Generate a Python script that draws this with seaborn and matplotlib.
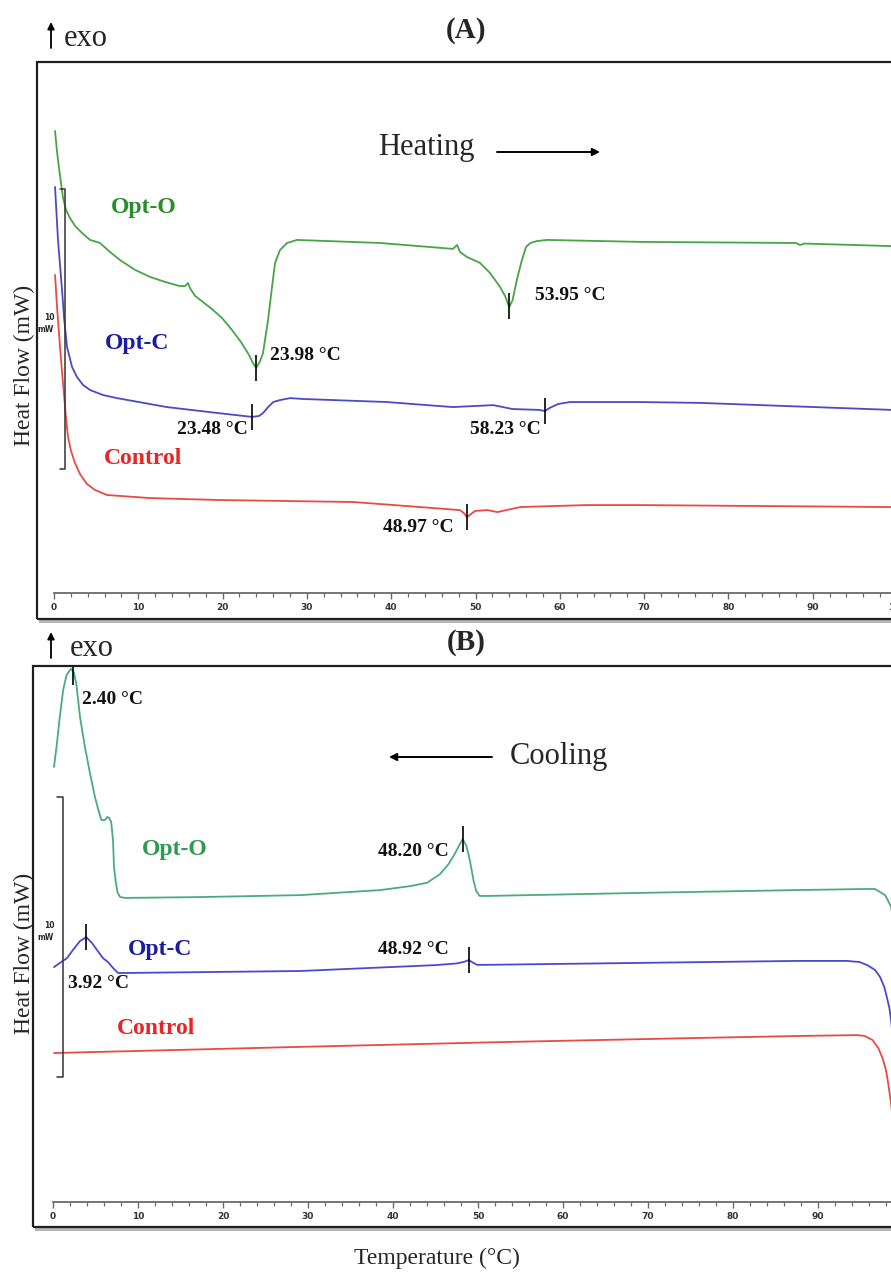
import numpy as np
import pandas as pd
import matplotlib
matplotlib.use("Agg")
import matplotlib.pyplot as plt
import seaborn as sns
from matplotlib.patches import Rectangle, FancyArrowPatch

# ------------------------------------------------------------------ data
samples = ["Opt-O", "Opt-C", "Control"]

# (A) heating scans: temperature (°C) and relative heat flow (mW)
heat_optO_T = [0.12, 0.36, 0.59, 0.83, 1.07, 1.42, 1.90, 2.49, 3.32, 4.27, 5.46, 6.64, 7.83,
               9.61, 11.39, 13.17, 14.95, 15.54, 15.90, 16.13, 16.73, 17.67, 18.74, 19.93,
               21.12, 22.18, 23.13, 23.60, 23.98, 24.40, 24.79, 25.39, 25.86, 26.22, 26.81,
               27.64, 28.83, 38.7, 47.33, 47.81, 48.16, 48.99, 50.53, 51.72, 52.91, 53.50,
               54.0, 54.4, 54.9, 55.5, 56.0, 56.5, 57.3, 58.48, 69.5, 88.0, 88.5, 89.0,
               99.3, 101.0]
heat_optO_hf = [16.50, 15.75, 15.18, 14.64, 14.11, 13.68, 13.39, 13.11, 12.86, 12.61, 12.50,
                12.18, 11.89, 11.54, 11.29, 11.11, 10.96, 10.96, 11.07, 10.89, 10.61, 10.39,
                10.14, 9.82, 9.39, 8.96, 8.50, 8.21, 8.04, 8.25, 8.57, 9.75, 10.93, 11.79,
                12.25, 12.50, 12.61, 12.50, 12.29, 12.43, 12.18, 12.00, 11.79, 11.43, 10.93,
                10.61, 10.21, 10.46, 11.18, 11.89, 12.36, 12.50, 12.57, 12.61, 12.54, 12.50,
                12.43, 12.48, 12.39, 12.38]

heat_optC_T = [0.12, 0.47, 0.95, 1.19, 1.54, 2.14, 2.73, 3.44, 4.27, 5.81, 7.47, 13.40, 19.34,
               23.48, 24.30, 24.80, 25.40, 26.00, 26.80, 28.00, 29.50, 39.5, 47.3, 52.1, 54.4,
               57.5, 58.23, 58.8, 59.8, 61.2, 69.5, 76.6, 99.3, 101.0]
heat_optC_hf = [14.50, 12.61, 10.82, 9.82, 8.79, 8.07, 7.71, 7.43, 7.25, 7.07, 6.96, 6.64,
                6.43, 6.29, 6.32, 6.43, 6.64, 6.82, 6.89, 6.96, 6.93, 6.82, 6.64, 6.71, 6.57,
                6.54, 6.50, 6.61, 6.75, 6.82, 6.82, 6.79, 6.54, 6.52]

heat_ctrl_T = [0.12, 0.36, 0.71, 0.95, 1.19, 1.42, 1.66, 2.02, 2.49, 3.08, 3.91, 4.86, 6.29,
               11.39, 19.7, 35.5, 43.4, 48.16, 48.60, 48.97, 49.47, 49.94, 51.4, 52.6, 55.3,
               63.2, 69.5, 99.3, 101.0]
heat_ctrl_hf = [11.36, 10.21, 8.79, 7.89, 7.07, 6.25, 5.57, 5.07, 4.64, 4.25, 3.89, 3.68,
                3.50, 3.39, 3.32, 3.25, 3.07, 2.96, 2.86, 2.71, 2.82, 2.93, 2.96, 2.89, 3.07,
                3.14, 3.14, 3.07, 3.07]

# (B) cooling scans
cool_optO_T = [0.12, 0.47, 0.80, 1.20, 1.60, 2.10, 2.45, 2.75, 3.18, 3.76, 4.35, 4.94, 5.41,
               5.70, 6.10, 6.40, 6.60, 6.85, 7.06, 7.18, 7.40, 7.60, 7.90, 8.50, 17.3, 29.1,
               38.5, 42.0, 44.0, 45.5, 46.5, 47.3, 47.9, 48.2, 48.6, 48.9, 49.2, 49.5, 49.8,
               50.2, 51.0, 69.2, 87.5, 95.8, 96.7, 97.3, 97.9, 98.2, 98.6, 99.0, 99.5]
cool_optO_hf = [15.54, 16.39, 17.32, 18.29, 18.82, 19.04, 18.92, 18.50, 17.32, 16.25, 15.32,
                14.46, 13.93, 13.64, 13.64, 13.75, 13.72, 13.57, 12.93, 11.96, 11.40, 11.05,
                10.89, 10.86, 10.89, 10.96, 11.14, 11.28, 11.40, 11.70, 12.05, 12.45, 12.80,
                12.96, 12.75, 12.40, 11.95, 11.45, 11.10, 10.93, 10.93, 11.04, 11.14, 11.18,
                11.18, 11.07, 10.96, 10.79, 10.54, 9.80, 8.00]

cool_optC_T = [0.12, 0.82, 1.65, 2.35, 3.18, 3.92, 4.59, 5.18, 5.88, 6.47, 7.06, 7.65, 8.71,
               29.1, 45.0, 47.5, 48.4, 48.92, 49.4, 49.9, 51.0, 69.2, 87.5, 93.4, 94.9, 95.8,
               96.7, 97.3, 97.8, 98.1, 98.4, 98.6, 99.1]
cool_optC_hf = [8.39, 8.54, 8.71, 9.00, 9.32, 9.46, 9.25, 9.00, 8.71, 8.57, 8.36, 8.18, 8.18,
                8.25, 8.46, 8.52, 8.58, 8.64, 8.55, 8.47, 8.47, 8.54, 8.61, 8.61, 8.57, 8.46,
                8.29, 8.04, 7.68, 7.32, 6.93, 6.50, 5.00]

cool_ctrl_T = [0.12, 29.1, 52.6, 76.1, 87.9, 94.6, 95.5, 96.4, 97.1, 97.6, 98.0, 98.2, 98.6,
               99.1]
cool_ctrl_hf = [5.32, 5.54, 5.71, 5.86, 5.93, 5.96, 5.93, 5.79, 5.50, 5.14, 4.71, 4.36, 3.54,
                1.86]

heat_peaks_T = [23.98, 53.95, 23.48, 58.23, 48.97]
heat_peaks_sample = ["Opt-O", "Opt-O", "Opt-C", "Opt-C", "Control"]
cool_peaks_T = [2.40, 48.20, 3.92, 48.92]
cool_peaks_sample = ["Opt-O", "Opt-O", "Opt-C", "Opt-C"]

x_ticks = list(range(0, 101, 10))
x_tick_labels = [str(t) for t in x_ticks]
scale_bar_mw = 10

# ------------------------------------------------------------------ style
sns.set_style("white")
plt.rcParams["font.family"] = ["Liberation Serif", "DejaVu Serif"]

W, H = 891, 1272
fig = plt.figure(figsize=(W / 100, H / 100), dpi=100)


def fx(px):
    return px / W


def fy(py):
    return 1 - py / H


def add_axes_px(left, top, right, bottom):
    return fig.add_axes([left / W, 1 - bottom / H, (right - left) / W, (bottom - top) / H])


def frame(left, top, right, bottom):
    shadow = Rectangle((fx(left + 2), fy(bottom + 4)), (right - left) / W, (bottom - top) / H,
                       transform=fig.transFigure, fc="#b5b5b5", ec="none", zorder=-3)
    white = Rectangle((fx(left), fy(bottom)), (right - left) / W, (bottom - top) / H,
                      transform=fig.transFigure, fc="white", ec="none", zorder=-2)
    edge = Rectangle((fx(left), fy(bottom)), (right - left) / W, (bottom - top) / H,
                     transform=fig.transFigure, fill=False, ec="#1e1e1e", lw=1.6, zorder=5)
    for p in (shadow, white, edge):
        fig.add_artist(p)


def ftext(x, y, s, **kw):
    kw.setdefault("va", "center")
    fig.text(fx(x), fy(y), s, **kw)


def farrow(x0, y0, x1, y1, ms=12, lw=1.3):
    fig.add_artist(FancyArrowPatch((fx(x0), fy(y0)), (fx(x1), fy(y1)), transform=fig.transFigure,
                                   arrowstyle="-|>", mutation_scale=ms, lw=lw, color="black",
                                   shrinkA=0, shrinkB=0))


def long_df(Ts, hfs):
    parts = []
    for s, t, h in zip(samples, Ts, hfs):
        parts.append(pd.DataFrame({"T": t, "HF": h, "sample": s}))
    return pd.concat(parts, ignore_index=True)


def style_ruler(ax):
    for side in ("top", "left", "right"):
        ax.spines[side].set_visible(False)
    ax.spines["bottom"].set_bounds(0, 101)
    ax.spines["bottom"].set_color("#6a6a6a")
    ax.spines["bottom"].set_linewidth(1.3)
    ax.set_xticks(x_ticks)
    ax.set_xticks(np.arange(0, 101, 2), minor=True)
    ax.set_xticklabels(x_tick_labels, fontsize=6.5, fontweight="bold",
                       family="DejaVu Sans", color="#333333")
    ax.tick_params(axis="x", which="major", direction="out", length=4.5, width=1.0,
                   color="#6a6a6a", pad=2.5, bottom=True)
    ax.tick_params(axis="x", which="minor", direction="out", length=3.0, width=0.9,
                   color="#6a6a6a", bottom=True)
    ax.set_yticks([])
    ax.set_xlabel("")
    ax.set_ylabel("")
    ax.patch.set_alpha(0)


def peak_ticks(ax, peaks_T, peaks_s, curves):
    for t, s in zip(peaks_T, peaks_s):
        ct, ch = curves[s]
        y = np.interp(t, ct, ch)
        ax.vlines(t, y - 0.47, y + 0.47, color="black", lw=1.2, zorder=4)


def scale_bar(ax, x, base):
    ax.plot([x - 0.65, x, x, x - 0.65], [base + scale_bar_mw, base + scale_bar_mw, base, base],
            color="#333333", lw=1.1)


# ------------------------------------------------------------------ panel A
frame(37, 62, 905, 619)
axA = add_axes_px(37, 62, 905, 593)
dfA = long_df([heat_optO_T, heat_optC_T, heat_ctrl_T], [heat_optO_hf, heat_optC_hf, heat_ctrl_hf])
palA = {"Opt-O": "#47a447", "Opt-C": "#4a4ac8", "Control": "#ea4a44"}
sns.lineplot(data=dfA, x="T", y="HF", hue="sample", hue_order=samples, palette=palA,
             estimator=None, sort=False, lw=1.3, legend=False, ax=axA)
axA.set_xlim(-2.02, 100.95)
axA.set_ylim(0, (593 - 62) / 28)
style_ruler(axA)
peak_ticks(axA, heat_peaks_T, heat_peaks_sample,
           {"Opt-O": (heat_optO_T, heat_optO_hf), "Opt-C": (heat_optC_T, heat_optC_hf),
            "Control": (heat_ctrl_T, heat_ctrl_hf)})
scale_bar(axA, (65 - 54) / 8.43, 4.43)

# ------------------------------------------------------------------ panel B
frame(33, 666, 905, 1227)
axB = add_axes_px(33, 666, 905, 1202)
dfB = long_df([cool_optO_T, cool_optC_T, cool_ctrl_T], [cool_optO_hf, cool_optC_hf, cool_ctrl_hf])
palB = {"Opt-O": "#4cab7c", "Opt-C": "#4a4ad0", "Control": "#ea4a44"}
sns.lineplot(data=dfB, x="T", y="HF", hue="sample", hue_order=samples, palette=palB,
             estimator=None, sort=False, lw=1.3, legend=False, ax=axB)
axB.set_xlim(-2.35, 100.24)
axB.set_ylim(0, (1202 - 666) / 28)
style_ruler(axB)
peak_ticks(axB, cool_peaks_T, cool_peaks_sample,
           {"Opt-O": (cool_optO_T, cool_optO_hf), "Opt-C": (cool_optC_T, cool_optC_hf),
            "Control": (cool_ctrl_T, cool_ctrl_hf)})
scale_bar(axB, (63 - 53) / 8.5, 4.46)

# ------------------------------------------------------------------ texts
bold_lbl = dict(fontsize=14, fontweight="bold", color="#111111", ha="left")
lab = dict(fontsize=17, fontweight="bold", ha="center")
colO_A, colO_B, colC, colR = "#2b8c2b", "#2e9a52", "#1c1ca0", "#e82424"

# panel A
farrow(51, 48, 51, 22, ms=10, lw=1.3)
ftext(86, 39, "exo", fontsize=22, ha="center")
ftext(466, 30, "(A)", fontsize=21, fontweight="bold", ha="center")
ftext(426, 147, "Heating", fontsize=22, ha="center")
farrow(497, 152, 600, 152, ms=11, lw=1.4)
ftext(24, 365, "Heat Flow (mW)", fontsize=17, rotation=90, ha="center")
ftext(144, 208, "Opt-O", color=colO_A, **lab)
ftext(137, 343, "Opt-C", color=colC, **lab)
ftext(143, 458, "Control", color=colR, **lab)
ftext(270, 355, "23.98 °C", **bold_lbl)
ftext(535, 295, "53.95 °C", **bold_lbl)
ftext(177, 430, "23.48 °C", **bold_lbl)
ftext(470, 430, "58.23 °C", **bold_lbl)
ftext(383, 528, "48.97 °C", **bold_lbl)
ftext(49, 317, "10", fontsize=5.5, fontweight="bold", family="DejaVu Sans", ha="center")
ftext(46, 330, "mW", fontsize=5.5, fontweight="bold", family="DejaVu Sans", ha="center")

# panel B
farrow(51, 658, 51, 632, ms=10, lw=1.3)
ftext(92, 649, "exo", fontsize=22, ha="center")
ftext(466, 643, "(B)", fontsize=21, fontweight="bold", ha="center")
ftext(559, 757, "Cooling", fontsize=22, ha="center")
farrow(492, 757, 389, 757, ms=11, lw=1.4)
ftext(24, 953, "Heat Flow (mW)", fontsize=17, rotation=90, ha="center")
ftext(175, 850, "Opt-O", color=colO_B, **lab)
ftext(160, 950, "Opt-C", color=colC, **lab)
ftext(156, 1028, "Control", color=colR, **lab)
ftext(82, 700, "2.40 °C", **bold_lbl)
ftext(378, 852, "48.20 °C", **bold_lbl)
ftext(378, 950, "48.92 °C", **bold_lbl)
ftext(68, 983, "3.92 °C", **bold_lbl)
ftext(49, 925, "10", fontsize=5.5, fontweight="bold", family="DejaVu Sans", ha="center")
ftext(46, 938, "mW", fontsize=5.5, fontweight="bold", family="DejaVu Sans", ha="center")

ftext(437, 1258, "Temperature (°C)", fontsize=17, ha="center")

fig.savefig("out.png", dpi=100)
